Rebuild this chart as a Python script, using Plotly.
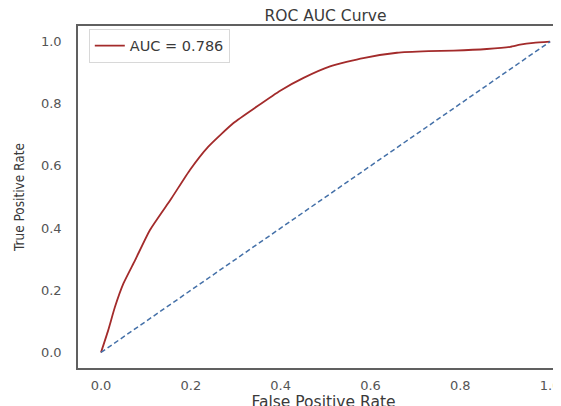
import plotly.graph_objects as go

fpr = [0.0, 0.016, 0.031, 0.050, 0.076, 0.109, 0.157, 0.198, 0.239, 0.295, 0.347,
       0.399, 0.451, 0.510, 0.584, 0.659, 0.729, 0.785, 0.859, 0.911, 0.933, 0.963, 1.0]
tpr = [0.0, 0.071, 0.146, 0.222, 0.297, 0.394, 0.496, 0.587, 0.662, 0.738, 0.791,
       0.842, 0.883, 0.920, 0.947, 0.964, 0.969, 0.971, 0.976, 0.983, 0.990, 0.996, 1.0]
diag_x = [0.0, 1.0]
diag_y = [0.0, 1.0]
auc_value = 0.786
tick_vals = [0.0, 0.2, 0.4, 0.6, 0.8, 1.0]
tick_text = ["0.0", "0.2", "0.4", "0.6", "0.8", "1.0"]

font_main = "DejaVu Sans, Verdana, sans-serif"
font_narrow = "DejaVu Sans Condensed, Liberation Sans Narrow, Roboto Condensed, DejaVu Sans, sans-serif"

# the page body adds an 8px margin, so the figure is laid out 8px up/left
fig = go.Figure()
fig.add_trace(go.Scatter(x=fpr, y=tpr, mode="lines",
                         line=dict(color="#a32b2b", width=1.8, shape="spline", smoothing=0.5),
                         name=f"AUC = {auc_value}"))
fig.add_trace(go.Scatter(x=diag_x, y=diag_y, mode="lines",
                         line=dict(color="#4470a8", width=1.5, dash="5px,3px"),
                         showlegend=False))

fig.update_layout(
    width=561, height=406,
    margin=dict(l=70, r=0, t=18, b=46),
    paper_bgcolor="white", plot_bgcolor="white",
    title=dict(text="ROC AUC Curve", x=317.5/561, xanchor="center",
               y=1 - 8/406, yanchor="middle", yref="container",
               font=dict(family=font_main, size=15.5, color="#3a3a3a")),
    showlegend=True,
    legend=dict(x=0.022, y=0.992, xanchor="left", yanchor="top",
                bgcolor="white", bordercolor="#d8d8d8", borderwidth=1,
                font=dict(family=font_main, size=14.5, color="#3a3a3a")),
    xaxis=dict(range=[-0.0512, 1.042], tickvals=tick_vals, ticktext=tick_text,
               showgrid=False, zeroline=False, showline=True, mirror=True,
               linecolor="#606060", linewidth=1.6, ticks="",
               ticklabelstandoff=5,
               tickfont=dict(family=font_main, size=13, color="#555"),
               title=dict(text="False Positive Rate", standoff=0,
                          font=dict(family=font_main, size=15.5, color="#3a3a3a"))),
    yaxis=dict(range=[-0.05, 1.05], tickvals=tick_vals, ticktext=tick_text,
               showgrid=False, zeroline=False, showline=True, mirror=False,
               linecolor="#606060", linewidth=1.6, ticks="",
               ticklabelstandoff=12,
               tickfont=dict(family=font_main, size=13, color="#555"),
               title=dict(text="True Positive Rate", standoff=13,
                          font=dict(family=font_narrow, size=13.5, color="#3a3a3a"))),
)

fig.write_html("out.html")
